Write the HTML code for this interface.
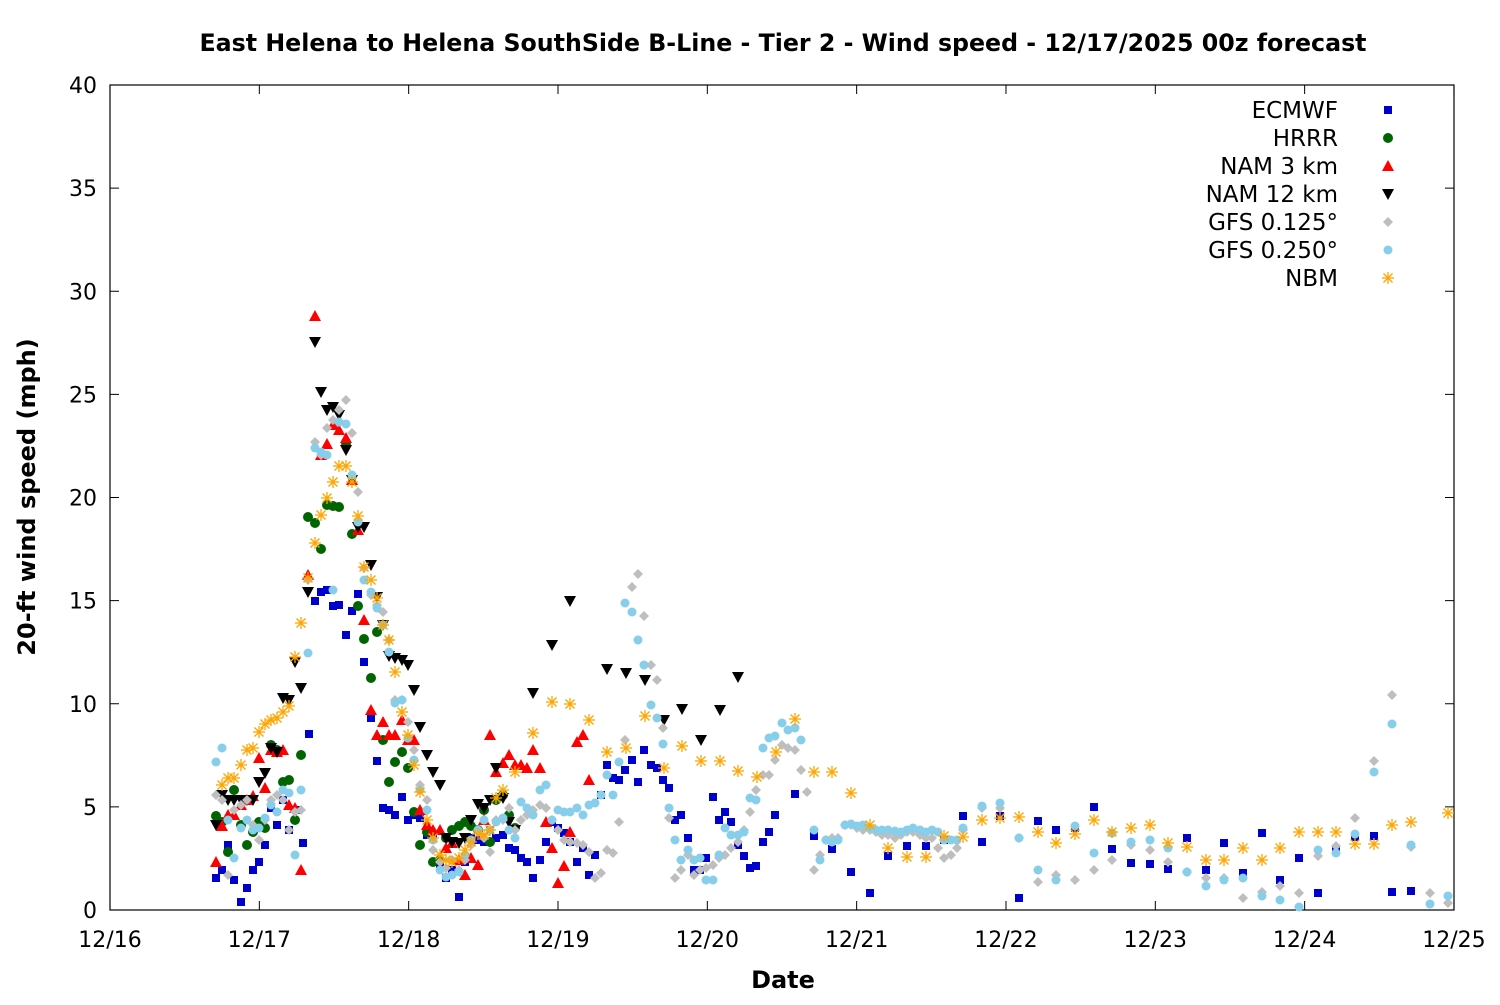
<!DOCTYPE html>
<html><head><meta charset="utf-8"><style>
html,body{margin:0;padding:0;background:#fff;}
svg text{font-family:"DejaVu Sans","Liberation Sans",sans-serif;}
</style></head><body>
<svg id="s" width="1500" height="1000" xmlns="http://www.w3.org/2000/svg">
<rect width="1500" height="1000" fill="#fff"/>
<text x="783" y="51" text-anchor="middle" font-size="24" font-weight="bold" textLength="1167" lengthAdjust="spacingAndGlyphs">East Helena to Helena SouthSide B-Line - Tier 2 - Wind speed - 12/17/2025 00z forecast</text>
<g id="ax"></g>
<rect x="110" y="85" width="1344" height="825" fill="none" stroke="#000" stroke-width="1.2"/>
<text x="783" y="988" text-anchor="middle" font-size="24" font-weight="bold">Date</text>
<text transform="translate(35,497) rotate(-90)" text-anchor="middle" font-size="24" font-weight="bold">20-ft wind speed (mph)</text>
<g id="pts"></g>
<g id="leg"></g>
</svg>
<script>
const NS="http://www.w3.org/2000/svg";
function el(t,a,p,txt){const e=document.createElementNS(NS,t);for(const k in a)e.setAttribute(k,a[k]);if(txt!==undefined)e.textContent=txt;p.appendChild(e);return e;}
const ax=document.getElementById('ax');
for(let i=0;i<=8;i++){const y=910-i*20.625*5;
el('line',{x1:110,y1:y,x2:119,y2:y,stroke:'#000'},ax);el('line',{x1:1454,y1:y,x2:1445,y2:y,stroke:'#000'},ax);
el('text',{x:97,y:y+8,'text-anchor':'end','font-size':22},ax,String(i*5));}
const dl=['12/16','12/17','12/18','12/19','12/20','12/21','12/22','12/23','12/24','12/25'];
for(let i=0;i<=9;i++){const x=110+i*149.33;
el('line',{x1:x,y1:910,x2:x,y2:901,stroke:'#000'},ax);el('line',{x1:x,y1:85,x2:x,y2:94,stroke:'#000'},ax);
el('text',{x:x,y:947,'text-anchor':'middle','font-size':22},ax,dl[i]);}
const P=document.getElementById('pts');
function mk(g,type,x,y){
 if(type==='sq')el('rect',{x:x-4,y:y-4,width:8,height:8,fill:'#0000cc'},g);
 else if(type==='ci')el('circle',{cx:x,cy:y,r:5,fill:'#006400'},g);
 else if(type==='tu')el('polygon',{points:`${x},${y-6} ${x-6},${y+5} ${x+6},${y+5}`,fill:'#ff0000'},g);
 else if(type==='td')el('polygon',{points:`${x},${y+6} ${x-6},${y-5} ${x+6},${y-5}`,fill:'#000'},g);
 else if(type==='di')el('polygon',{points:`${x},${y-5} ${x+5},${y} ${x},${y+5} ${x-5},${y}`,fill:'#bebebe'},g);
 else if(type==='pe')el('circle',{cx:x,cy:y,r:4.5,fill:'#87ceeb'},g);
 else if(type==='st'){const s='#ffa500';el('line',{x1:x-6,y1:y,x2:x+6,y2:y,stroke:s,'stroke-width':1.3},g);el('line',{x1:x,y1:y-6,x2:x,y2:y+6,stroke:s,'stroke-width':1.3},g);el('line',{x1:x-4.5,y1:y-4.5,x2:x+4.5,y2:y+4.5,stroke:s,'stroke-width':1.3},g);el('line',{x1:x-4.5,y1:y+4.5,x2:x+4.5,y2:y-4.5,stroke:s,'stroke-width':1.3},g);}
}
function pl(s){const a=s.match(/-?\d+/g).map(Number);const r=[];for(let i=0;i<a.length;i+=2)r.push([a[i],a[i+1]]);return r;}
const D={
sq:`(216,878),(222,870),(228,845),(234,880),(241,902),(247,888),(253,870),(259,862),(265,845),(271,808),(277,825),(283,800),(289,830),(297,810),(303,843),(309,734),(315,601),(321,592),(327,590),(333,606),(339,605),(346,635),(352,611),(358,594),(364,662),(371,718),(377,761),(383,808),(389,810),(395,815),(402,797),(408,820),(414,815),(420,818),(427,835),(433,838),(440,865),(446,878),(452,870),(459,897),(465,862),(471,838),(478,840),(484,842),(490,830),(496,838),(503,835),(509,848),(515,850),(521,858),(527,862),(533,878),(540,860),(546,842),(552,822),(558,828),(564,833),(570,842),(577,862),(583,848),(589,875),(595,855),(601,795),(607,765),(613,778),(619,780),(625,770),(632,760),(638,782),(644,750),(651,765),(657,768),(663,780),(669,788),(675,820),(681,815),(688,838),(694,870),(700,870),(706,858),(713,797),(719,820),(725,812),(731,822),(738,845),(744,856),(750,868),(756,866),(763,842),(769,832),(775,815),(795,794),(814,836),(832,849),(851,872),(870,893),(888,856),(907,846),(926,846),(944,840),(963,816),(982,842),(1000,816),(1019,898),(1038,821),(1056,830),(1075,828),(1094,807),(1112,849),(1131,863),(1150,864),(1168,869),(1187,838),(1206,870),(1224,843),(1243,873),(1262,833),(1280,880),(1299,858),(1318,893),(1336,850),(1355,837),(1374,836),(1392,892),(1411,891)`,
ci:`(216,816),(222,822),(228,852),(234,790),(241,825),(247,845),(253,832),(259,822),(265,828),(271,745),(277,750),(283,782),(289,780),(295,820),(301,755),(308,517),(315,523),(321,549),(327,505),(333,506),(339,507),(346,443),(352,534),(358,606),(364,639),(371,678),(377,632),(383,740),(389,782),(395,762),(402,752),(408,768),(414,812),(420,845),(427,832),(433,862),(440,860),(446,838),(452,830),(459,826),(465,822),(471,826),(478,830),(484,810),(490,842),(496,800),(503,795),(509,815),(515,828)`,
tu:`(216,862),(222,826),(228,815),(234,815),(241,805),(247,800),(253,796),(259,758),(265,788),(271,750),(277,752),(283,750),(289,805),(295,808),(301,870),(308,575),(315,316),(321,455),(327,444),(333,425),(339,430),(346,438),(352,480),(358,530),(364,620),(371,710),(377,735),(383,722),(389,735),(395,735),(402,720),(408,740),(414,740),(420,810),(427,825),(433,830),(440,830),(446,848),(452,843),(459,860),(465,875),(471,858),(478,865),(484,820),(490,735),(496,772),(503,763),(509,755),(515,765),(521,765),(527,768),(533,750),(540,768),(546,822),(552,848),(558,883),(564,866),(570,832),(577,742),(583,735),(589,780)`,
td:`(216,825),(222,795),(228,800),(234,800),(241,800),(247,800),(253,800),(259,782),(265,773),(271,748),(277,752),(283,698),(289,700),(295,662),(301,688),(308,592),(315,342),(321,392),(327,410),(333,407),(339,415),(346,450),(352,480),(358,527),(364,527),(371,565),(377,597),(383,625),(389,656),(395,658),(402,660),(408,665),(414,690),(420,727),(427,755),(433,772),(440,785),(446,838),(452,842),(459,843),(465,838),(471,820),(478,804),(484,808),(490,800),(496,768),(503,798),(509,822),(515,830),(533,693),(552,645),(570,601),(607,669),(626,673),(645,680),(664,720),(682,709),(701,740),(720,710),(738,677)`,
di:`(216,795),(222,800),(228,875),(234,810),(241,805),(247,800),(253,825),(259,840),(265,820),(271,800),(277,795),(283,800),(289,830),(295,812),(301,810),(308,580),(315,442),(321,455),(327,428),(333,420),(339,410),(346,400),(352,433),(358,492),(364,568),(371,595),(377,605),(383,612),(389,640),(395,700),(402,700),(408,722),(414,750),(420,785),(427,800),(433,850),(440,862),(446,868),(452,860),(459,870),(465,860),(471,845),(478,830),(484,838),(490,852),(496,820),(503,820),(509,808),(515,830),(521,820),(527,815),(533,810),(540,805),(546,808),(552,820),(558,830),(564,840),(570,842),(577,843),(583,845),(589,852),(595,878),(601,873),(607,850),(613,853),(619,822),(625,740),(632,587),(638,574),(644,616),(651,665),(657,680),(663,728),(669,818),(675,878),(681,870),(688,855),(694,875),(700,870),(706,868),(713,865),(719,858),(725,855),(731,848),(738,842),(744,830),(750,812),(756,790),(763,775),(769,775),(775,760),(782,745),(788,748),(795,750),(801,770),(807,792),(814,870),(820,855),(826,840),(832,838),(838,838),(845,825),(851,825),(857,828),(863,830),(870,830),(876,832),(882,835),(888,835),(895,838),(901,835),(907,832),(913,832),(920,835),(926,838),(932,838),(938,848),(944,858),(951,855),(957,848),(963,830),(982,808),(1000,808),(1019,838),(1038,882),(1056,875),(1075,880),(1094,870),(1112,860),(1131,845),(1150,850),(1168,862),(1187,872),(1206,878),(1224,878),(1243,898),(1262,892),(1280,886),(1299,893),(1318,856),(1336,846),(1355,818),(1374,761),(1392,695),(1411,847),(1430,893),(1448,903)`,
pe:`(216,762),(222,748),(228,820),(234,858),(241,828),(247,820),(253,830),(259,828),(265,818),(271,805),(277,812),(283,790),(289,793),(295,855),(301,790),(308,653),(315,448),(321,452),(327,455),(333,590),(339,422),(346,424),(352,475),(358,522),(364,580),(371,592),(377,608),(383,625),(389,652),(395,703),(402,700),(408,738),(414,760),(420,790),(427,810),(433,840),(440,870),(446,877),(452,875),(459,872),(465,855),(471,840),(478,830),(484,820),(490,830),(496,822),(503,818),(509,830),(515,838),(521,802),(527,808),(533,815),(540,790),(546,785),(552,820),(558,810),(564,812),(570,812),(577,808),(583,815),(589,805),(595,803),(601,795),(607,775),(613,795),(619,762),(625,603),(632,612),(638,640),(644,665),(651,705),(657,718),(663,744),(669,808),(675,840),(681,860),(688,850),(694,860),(700,858),(706,880),(713,880),(719,855),(725,828),(731,835),(738,835),(744,832),(750,798),(756,800),(763,748),(769,738),(775,736),(782,723),(788,730),(795,728),(801,740),(814,830),(820,860),(826,840),(832,842),(838,840),(845,825),(851,824),(857,826),(863,825),(870,828),(876,830),(882,830),(888,830),(895,831),(901,832),(907,830),(913,828),(920,830),(926,832),(932,830),(938,832),(944,840),(951,840),(957,840),(963,828),(982,806),(1000,803),(1019,838),(1038,870),(1056,880),(1075,826),(1094,853),(1112,833),(1131,842),(1150,840),(1168,848),(1187,872),(1206,886),(1224,880),(1243,878),(1262,896),(1280,900),(1299,907),(1318,850),(1336,853),(1355,834),(1374,772),(1392,724),(1411,845),(1430,904),(1448,896)`,
st:`(222,785),(228,778),(234,778),(241,765),(247,750),(253,748),(259,732),(265,724),(271,720),(277,718),(283,712),(289,706),(295,657),(301,623),(308,578),(315,543),(321,515),(327,498),(333,482),(339,466),(346,466),(352,482),(358,516),(364,567),(371,580),(377,598),(383,625),(389,640),(395,672),(402,712),(408,735),(414,765),(420,792),(427,820),(433,838),(440,855),(446,860),(452,862),(459,858),(465,850),(471,842),(478,834),(484,835),(490,830),(496,798),(503,790),(515,772),(533,733),(552,702),(570,704),(589,720),(607,752),(626,748),(645,716),(664,768),(682,746),(701,761),(720,761),(738,771),(757,777),(776,752),(795,719),(814,772),(832,772),(851,793),(870,825),(888,848),(907,857),(926,857),(944,836),(963,837),(982,820),(1000,818),(1019,817),(1038,832),(1056,843),(1075,834),(1094,820),(1112,832),(1131,828),(1150,825),(1168,843),(1187,847),(1206,860),(1224,860),(1243,848),(1262,860),(1280,848),(1299,832),(1318,832),(1336,832),(1355,844),(1374,844),(1392,825),(1411,822),(1448,813)`};
['sq','ci','tu','td','di','pe','st'].forEach(t=>{const g=el('g',{},P);pl(D[t]).forEach(p=>mk(g,t,p[0],p[1]));});
const L=document.getElementById('leg');
const names=[['ECMWF','sq'],['HRRR','ci'],['NAM 3 km','tu'],['NAM 12 km','td'],['GFS 0.125°','di'],['GFS 0.250°','pe'],['NBM','st']];
names.forEach((n,i)=>{const y=110+i*28;el('text',{x:1338,y:y+8,'text-anchor':'end','font-size':23},L,n[0]);mk(L,n[1],1388,y);});
</script>
</body></html>
